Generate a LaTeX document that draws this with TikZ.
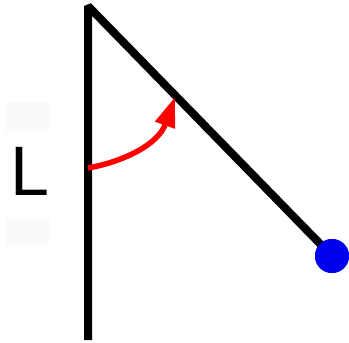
\documentclass[tikz,border=0pt]{standalone}
\usepackage{fontspec}
\setmainfont{Liberation Sans}
\usetikzlibrary{arrows.meta}
\definecolor{faint}{HTML}{FAFAFA}
\definecolor{ballblue}{HTML}{0000F0}
\tikzset{
  rod/.style={line width=8pt, line join=bevel, black},
  anglearrow/.style={line width=5.5pt, red, -{Triangle[length=30pt,width=20pt]}},
  ball/.style={circle, fill=ballblue, minimum size=34pt, inner sep=0pt},
  label/.style={font=\fontsize{70}{70}\selectfont, inner sep=0pt}
}
\begin{document}
\begin{tikzpicture}[x=1pt,y=-1pt]
\useasboundingbox (0,0) rectangle (349,343);
\fill[faint] (6,102) rectangle (49,245);
\fill[white] (6,132) rectangle (49,217);
\node[label, anchor=base west] (L) at (10,195) {L};
\coordinate (bottom) at (88,340);
\coordinate (pivot) at (88,6);
\coordinate (start) at (88,168);
\coordinate (tip) at (175,97);
\node[ball] (b) at (332,256) {};
\draw[rod] (bottom) -- (pivot) -- (b.center);
\node[ball] at (b.center) {};
\draw[anglearrow] (start) .. controls (122,162) and (158,145) .. (tip);
\end{tikzpicture}
\end{document}
